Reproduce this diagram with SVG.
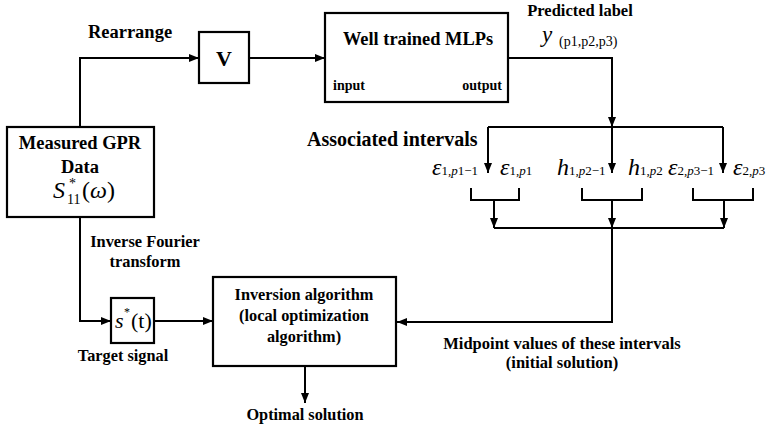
<svg xmlns="http://www.w3.org/2000/svg" width="777" height="431" viewBox="0 0 777 431">
<defs>
<marker id="ah" viewBox="0 0 10 10" refX="10" refY="5" markerWidth="10" markerHeight="10" markerUnits="userSpaceOnUse" orient="auto">
<path d="M0,1 L10,5 L0,9 Z" fill="#000"/>
</marker>
<style>
.box{fill:#fff;stroke:#000;stroke-width:2.2}
.ln{fill:none;stroke:#000;stroke-width:2}
.lna{fill:none;stroke:#000;stroke-width:2;marker-end:url(#ah)}
.b{font-family:"Liberation Serif","Times New Roman",serif;font-weight:bold;fill:#000}
.m{font-family:"Liberation Serif","Times New Roman",serif;fill:#000}
.i{font-style:italic}
</style>
</defs>
<rect width="777" height="431" fill="#fff"/>
<g id="connectors">
<path class="lna" d="M80,127 V58 H199"/>
<path class="lna" d="M249,58 H325"/>
<path class="lna" d="M508,58 H612 V127"/>
<path class="ln" d="M488,127 H723"/>
<path class="lna" d="M488,127 V173"/>
<path class="lna" d="M612,127 V173"/>
<path class="lna" d="M723,127 V173"/>
<path class="ln" d="M471,188 V200 H519 V188"/>
<path class="ln" d="M582,188 V200 H642 V188"/>
<path class="ln" d="M693,188 V200 H753 V188"/>
<path class="lna" d="M494,200 V228"/>
<path class="lna" d="M612,200 V228"/>
<path class="lna" d="M724,200 V228"/>
<path class="ln" d="M494,228 H724"/>
<path class="lna" d="M612,228 V322 H397"/>
<path class="lna" d="M80,217 V321 H111"/>
<path class="lna" d="M154,321 H213"/>
<path class="lna" d="M305,366 V403"/>
</g>
<g id="measured">
<rect class="box" x="7" y="127" width="147" height="90"/>
<text class="b" x="80" y="149" font-size="18.5" text-anchor="middle">Measured GPR</text>
<text class="b" x="80" y="173" font-size="18.5" text-anchor="middle">Data</text>
<text class="m" x="53" y="198" font-size="24"><tspan class="i">S</tspan></text>
<text class="m" x="67" y="204" font-size="14">11</text>
<text class="m" x="69" y="188" font-size="14">*</text>
<text class="m" x="82" y="198" font-size="24">(<tspan class="i">ω</tspan>)</text>
</g>
<g id="V">
<rect class="box" x="199" y="32" width="50" height="51"/>
<text class="b" x="224" y="66" font-size="22" text-anchor="middle">V</text>
</g>
<g id="mlp">
<rect class="box" x="325" y="13" width="183" height="89"/>
<text class="b" x="418" y="45" font-size="18.4" text-anchor="middle">Well trained MLPs</text>
<text class="b" x="333" y="90" font-size="14">input</text>
<text class="b" x="502" y="90" font-size="14" text-anchor="end">output</text>
</g>
<g id="starget">
<rect class="box" x="111" y="298" width="43" height="45"/>
<text class="m" x="115" y="328" font-size="22"><tspan class="i">s</tspan></text>
<text class="m" x="124" y="316" font-size="12">*</text>
<text class="m" x="131" y="328" font-size="22">(t)</text>
</g>
<g id="inversion">
<rect class="box" x="213" y="277" width="183" height="89"/>
<text class="b" x="304" y="300" font-size="16.3" text-anchor="middle">Inversion algorithm</text>
<text class="b" x="304" y="321" font-size="16.3" text-anchor="middle">(local optimization</text>
<text class="b" x="304" y="342" font-size="16.3" text-anchor="middle">algorithm)</text>
</g>
<g id="labels">
<text class="b" x="130" y="38" font-size="18.5" text-anchor="middle">Rearrange</text>
<text class="b" x="145" y="247" font-size="16.4" text-anchor="middle">Inverse Fourier</text>
<text class="b" x="145" y="267" font-size="16.4" text-anchor="middle">transform</text>
<text class="b" x="123" y="361" font-size="16.3" text-anchor="middle">Target signal</text>
<text class="b" x="305" y="420" font-size="16.3" text-anchor="middle">Optimal solution</text>
<text class="b" x="562" y="349" font-size="16.5" text-anchor="middle">Midpoint values of these intervals</text>
<text class="b" x="562" y="368" font-size="16.5" text-anchor="middle">(initial solution)</text>
<text class="b" x="580" y="16" font-size="16.5" text-anchor="middle">Predicted label</text>
<text class="m" x="542" y="42" font-size="23"><tspan class="i">y</tspan></text>
<text class="m" x="559" y="46" font-size="14">(p1,p2,p3)</text>
<text class="b" x="307" y="146" font-size="20">Associated intervals</text>
</g>
<g id="intervals">
<text class="m" x="432" y="175" font-size="24"><tspan class="i">ε</tspan><tspan font-size="13">1,<tspan class="i">p</tspan>1−1</tspan></text>
<text class="m" x="500" y="175" font-size="24"><tspan class="i">ε</tspan><tspan font-size="13">1,<tspan class="i">p</tspan>1</tspan></text>
<text class="m" x="557" y="175" font-size="24"><tspan class="i">h</tspan><tspan font-size="13">1,<tspan class="i">p</tspan>2−1</tspan></text>
<text class="m" x="628" y="175" font-size="24"><tspan class="i">h</tspan><tspan font-size="13">1,<tspan class="i">p</tspan>2</tspan></text>
<text class="m" x="668" y="175" font-size="24"><tspan class="i">ε</tspan><tspan font-size="13">2,<tspan class="i">p</tspan>3−1</tspan></text>
<text class="m" x="733" y="175" font-size="24"><tspan class="i">ε</tspan><tspan font-size="13">2,<tspan class="i">p</tspan>3</tspan></text>
</g>
</svg>
